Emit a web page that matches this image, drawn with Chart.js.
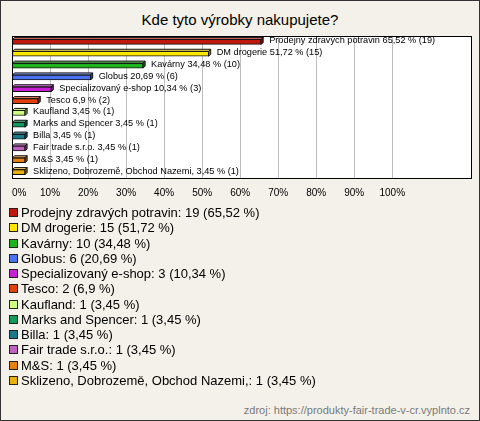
<!DOCTYPE html>
<html>
<head>
<meta charset="utf-8">
<script src="https://cdn.jsdelivr.net/npm/chart.js@4"></script>
<style>
  body { margin: 0; background: #fff; }
  #box { position: relative; width: 478px; height: 419px; border: 1px solid #333; background: #f3f1e9; font-family: "Liberation Sans", Arial, sans-serif; }
  #title { position: absolute; left: 0; top: 10px; width: 478px; text-align: center; font-size: 15px; color: #000; }
  #cv { position: absolute; left: -1px; top: -1px; }
  #legend { position: absolute; left: 8px; top: 204px; font-size: 13px; line-height: 15.25px; color: #000; }
  #legend .sw { display: inline-block; width: 7px; height: 7px; border: 1px solid #222; margin-right: 3px; vertical-align: 0px; }
  #src { position: absolute; right: 9px; top: 403px; font-size: 11px; color: #7a7a7a; }
</style>
</head>
<body>
<div id="box">
  <div id="title">Kde tyto výrobky nakupujete?</div>
  <canvas id="cv" width="480" height="210"></canvas>
  <div id="legend"></div>
  <div id="src">zdroj: https://produkty-fair-trade-v-cr.vyplnto.cz</div>
</div>
<script>
const names = ['Prodejny zdravých potravin', 'DM drogerie', 'Kavárny', 'Globus', 'Specializovaný e-shop', 'Tesco',
  'Kaufland', 'Marks and Spencer', 'Billa', 'Fair trade s.r.o.', 'M&S', 'Sklizeno, Dobrozemě, Obchod Nazemi,'];
const counts = [19, 15, 10, 6, 3, 2, 1, 1, 1, 1, 1, 1];
const percents = [65.52, 51.72, 34.48, 20.69, 10.34, 6.9, 3.45, 3.45, 3.45, 3.45, 3.45, 3.45];
const tickLabels = ['0%', '10%', '20%', '30%', '40%', '50%', '60%', '70%', '80%', '90%', '100%'];
const colors = ['#c0180c', '#ffe600', '#1fb41f', '#4a72f0', '#c81ed4', '#e4400c',
  '#ccff80', '#139a5c', '#1a7a8c', '#c060c0', '#e8800e', '#e8b00e'];

const fmt = v => String(v).replace('.', ',');

function shade(hex, f) {
  let r = parseInt(hex.slice(1, 3), 16), g = parseInt(hex.slice(3, 5), 16), b = parseInt(hex.slice(5, 7), 16);
  if (f > 0) { r += (255 - r) * f; g += (255 - g) * f; b += (255 - b) * f; }
  else { r *= 1 + f; g *= 1 + f; b *= 1 + f; }
  return `rgb(${r | 0},${g | 0},${b | 0})`;
}

// legend
let lg = '';
names.forEach((n, i) => {
  lg += `<div><span class="sw" style="background:${colors[i]}"></span>${n}: ${counts[i]} (${fmt(percents[i])} %)</div>`;
});
document.getElementById('legend').innerHTML = lg;

const D = 2;
const bar3d = {
  id: 'bar3d',
  afterDatasetsDraw(chart) {
    const ctx = chart.ctx, a = chart.chartArea;
    const meta = chart.getDatasetMeta(0);
    ctx.save();
    ctx.lineWidth = 1;
    ctx.strokeStyle = '#111';
    meta.data.forEach((el, i) => {
      const p = el.getProps(['x', 'y', 'base', 'height'], true);
      const top = p.y - p.height / 2, bot = p.y + p.height / 2;
      // top face
      ctx.beginPath();
      ctx.moveTo(p.base, top); ctx.lineTo(p.base + D, top - D); ctx.lineTo(p.x + D, top - D); ctx.lineTo(p.x, top); ctx.closePath();
      ctx.fillStyle = shade(colors[i], 0.35); ctx.fill(); ctx.stroke();
      // side face
      ctx.beginPath();
      ctx.moveTo(p.x, top); ctx.lineTo(p.x + D, top - D); ctx.lineTo(p.x + D, bot - D); ctx.lineTo(p.x, bot); ctx.closePath();
      ctx.fillStyle = shade(colors[i], -0.35); ctx.fill(); ctx.stroke();
      // value label
      ctx.fillStyle = '#000';
      ctx.font = '9.2px "Liberation Sans", Arial, sans-serif';
      ctx.textBaseline = 'middle';
      ctx.fillText(`${names[i]} ${fmt(percents[i])} % (${counts[i]})`, p.x + D + 6, p.y - 1);
    });
    ctx.strokeStyle = '#000';
    ctx.strokeRect(Math.round(a.left) + 0.5, Math.round(a.top) + 0.5, Math.round(a.right - a.left), Math.round(a.bottom - a.top));
    ctx.restore();
  }
};

const plotBg = {
  id: 'plotBg',
  beforeDraw(chart) {
    const a = chart.chartArea, ctx = chart.ctx;
    ctx.save();
    ctx.fillStyle = '#fff';
    ctx.fillRect(a.left, a.top, a.right - a.left, a.bottom - a.top);
    ctx.restore();
  }
};

new Chart(document.getElementById('cv'), {
  type: 'bar',
  data: {
    labels: names,
    datasets: [{
      data: percents,
      backgroundColor: colors,
      borderColor: '#111',
      borderWidth: 1,
      borderSkipped: false,
      barThickness: 5
    }]
  },
  options: {
    indexAxis: 'y',
    responsive: false,
    animation: false,
    layout: { padding: { left: 12, right: 9, top: 36, bottom: 2 } },
    plugins: { legend: { display: false }, tooltip: { enabled: false } },
    scales: {
      x: {
        min: 0, max: 120.7,
        border: { display: false },
        grid: {
          drawTicks: false,
          color: c => (c.tick && c.tick.value > 0 && c.tick.value <= 100) ? '#bdbdbd' : 'rgba(0,0,0,0)'
        },
        ticks: {
          stepSize: 10,
          padding: 9,
          align: 'inner',
          maxRotation: 0,
          autoSkip: false,
          color: '#000',
          font: { family: '"Liberation Sans", Arial, sans-serif', size: 10 },
          callback: v => tickLabels[v / 10] !== undefined && v % 10 === 0 ? tickLabels[v / 10] : ''
        }
      },
      y: { display: false, grid: { display: false } }
    }
  },
  plugins: [plotBg, bar3d]
});
</script>
</body>
</html>
